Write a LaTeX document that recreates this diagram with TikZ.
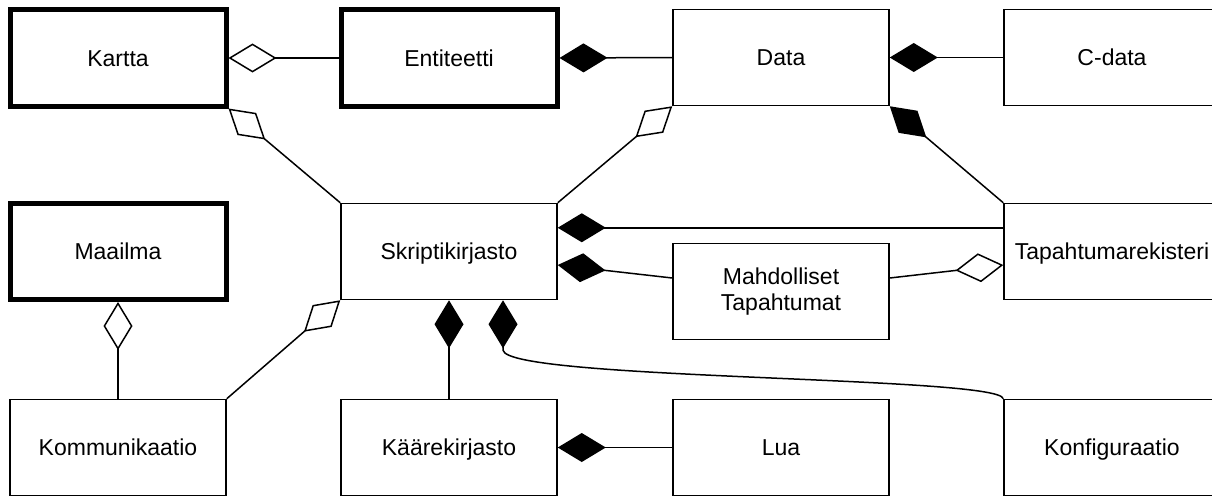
\documentclass[tikz,border=0pt]{standalone}
\usepackage{fontspec}
\setmainfont{Liberation Sans}
\usetikzlibrary{arrows.meta,calc}
\begin{document}
\begin{tikzpicture}[x=1pt,y=-1pt,
  basebox/.style={draw,line width=1.5pt,minimum width=216pt,minimum height=96pt,inner sep=0pt,
    font=\fontsize{23}{27.6}\selectfont,align=center},
  box/.style={basebox,text height=16.5pt,text depth=0pt},
  thickbox/.style={box,line width=5pt},
  conn/.style={line width=1.5pt},
  odia/.style={conn,{Diamond[open,length=48pt,width=29pt]}-},
  fdia/.style={conn,{Diamond[length=48pt,width=29pt]}-},
]
\useasboundingbox (0,0) rectangle (1212,495);
\clip (0,0) rectangle (1212,495);
\fill[white] (0,0) rectangle (1212,495);

% row 1
\node[thickbox] (kar) at (118,58) {Kartta};
\node[thickbox] (ent) at (449,58) {Entiteetti};
\node[box] (dat) at (781,57.5) {Data};
\node[box] (cda) at (1112,57.5) {C-data};
% row 2
\node[thickbox] (maa) at (118,251.5) {Maailma};
\node[box] (skr) at (449,251.5) {Skriptikirjasto};
\node[basebox] (mah) at (781,291.5) {Mahdolliset\\[-1pt]Tapahtumat};
\node[box] (tap) at (1112,251.5) {Tapahtumarekisteri};
% row 3
\node[box] (kom) at (118,447.5) {Kommunikaatio};
\node[box] (kaa) at (449,447.5) {Käärekirjasto};
\node[box] (lua) at (781,447.5) {Lua};
\node[box] (kon) at (1112,447.5) {Konfiguraatio};

% connectors
\draw[odia] (kar.east) -- (ent.west);
\draw[fdia] (ent.east) -- (dat.west);
\draw[fdia] (dat.east) -- (cda.west);
\draw[odia] (kar.south east) -- (skr.north west);
\draw[odia] (dat.south west) -- (skr.north east);
\draw[fdia] (dat.south east) -- (tap.north west);
\draw[fdia] ($(skr.north east)+(0,25)$) -- ($(tap.north west)+(0,25)$);
\draw[fdia] ($(skr.east)+(0,13.5)$) -- ($(mah.west)+(0,-13.5)$);
\draw[odia] ($(tap.west)+(0,13.5)$) -- ($(mah.east)+(0,-13.5)$);
\draw[fdia] (skr.south) -- (kaa.north);
\draw[fdia] ($(skr.south)+(54,0)$) -- ++(0,50) .. controls +(5,30) and (1000,376) .. (kon.north west);
\draw[fdia] (kaa.east) -- (lua.west);
\draw[odia] (maa.south) -- (kom.north);
\draw[odia] (skr.south west) -- (kom.north east);
\end{tikzpicture}
\end{document}
